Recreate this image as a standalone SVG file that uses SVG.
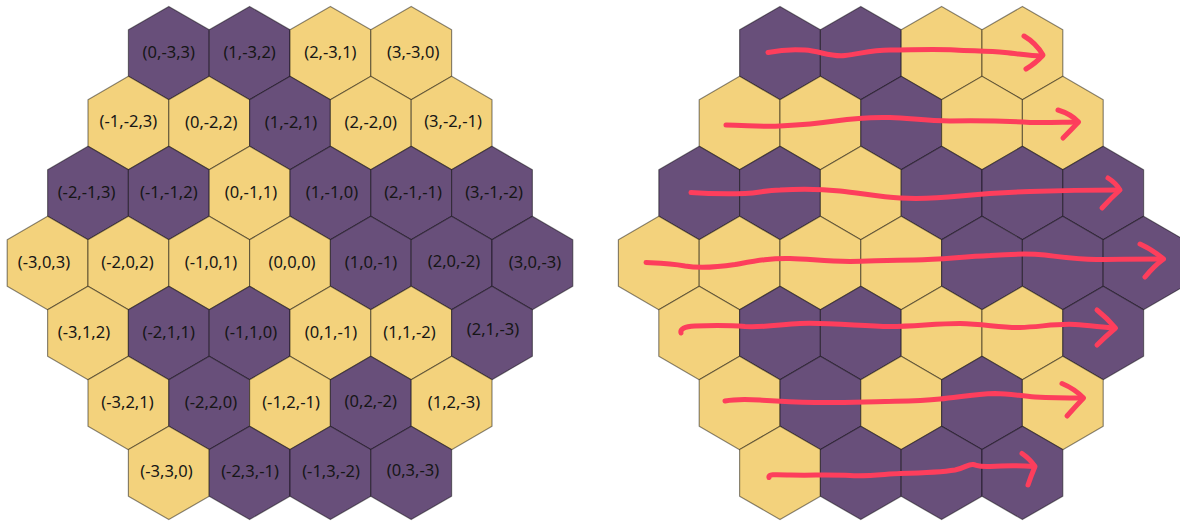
<svg xmlns="http://www.w3.org/2000/svg" xmlns:xlink="http://www.w3.org/1999/xlink" width="1180" height="521" viewBox="0 0 1180 521">
  <defs>
    <!-- pointy-top hexagon, width 80.8, circumradius 46.65 -->
    <polygon id="hex" points="0,-46.65 40.4,-23.33 40.4,23.33 0,46.65 -40.4,23.33 -40.4,-23.33"/>
    <style>
      .y { fill: #f3d27c; }
      .p { fill: #684f7a; }
      .cell use { stroke: #000; stroke-opacity: 0.45; stroke-width: 1.2; stroke-linejoin: round; }
      .lbl { font-family: "Noto Sans", Tahoma, sans-serif; font-size: 16.5px; fill: #161616; text-anchor: middle; }
      .arrow path { fill: none; stroke: #fd3e5c; stroke-width: 5; stroke-linecap: round; stroke-linejoin: round; }
    </style>
  </defs>

  <!-- Left grid: cube coordinates (q,r,s) -->
  <g id="left-grid">
    <!-- r = -3 -->
    <g id="L_0_-3_3" class="cell"><use href="#hex" class="p" x="168.8" y="53.1"/><text class="lbl" x="168.8" y="57.5">(0,-3,3)</text></g>
    <g id="L_1_-3_2" class="cell"><use href="#hex" class="p" x="249.6" y="53.1"/><text class="lbl" x="249.6" y="57.5">(1,-3,2)</text></g>
    <g id="L_2_-3_1" class="cell"><use href="#hex" class="y" x="330.4" y="53.1"/><text class="lbl" x="330.4" y="57.5">(2,-3,1)</text></g>
    <g id="L_3_-3_0" class="cell"><use href="#hex" class="y" x="411.2" y="53.1"/><text class="lbl" x="413.2" y="57.5">(3,-3,0)</text></g>
    <!-- r = -2 -->
    <g id="L_-1_-2_3" class="cell"><use href="#hex" class="y" x="128.4" y="123"/><text class="lbl" x="128.4" y="126.5">(-1,-2,3)</text></g>
    <g id="L_0_-2_2" class="cell"><use href="#hex" class="y" x="209.2" y="123"/><text class="lbl" x="211.2" y="127.5">(0,-2,2)</text></g>
    <g id="L_1_-2_1" class="cell"><use href="#hex" class="p" x="290" y="123"/><text class="lbl" x="291" y="127.5">(1,-2,1)</text></g>
    <g id="L_2_-2_0" class="cell"><use href="#hex" class="y" x="370.8" y="123"/><text class="lbl" x="370.8" y="127.5">(2,-2,0)</text></g>
    <g id="L_3_-2_-1" class="cell"><use href="#hex" class="y" x="451.6" y="123"/><text class="lbl" x="453" y="126.5">(3,-2,-1)</text></g>
    <!-- r = -1 -->
    <g id="L_-2_-1_3" class="cell"><use href="#hex" class="p" x="88" y="193"/><text class="lbl" x="86.5" y="197.5">(-2,-1,3)</text></g>
    <g id="L_-1_-1_2" class="cell"><use href="#hex" class="p" x="168.8" y="193"/><text class="lbl" x="168.8" y="197.5">(-1,-1,2)</text></g>
    <g id="L_0_-1_1" class="cell"><use href="#hex" class="y" x="249.6" y="193"/><text class="lbl" x="251" y="197.5">(0,-1,1)</text></g>
    <g id="L_1_-1_0" class="cell"><use href="#hex" class="p" x="330.4" y="193"/><text class="lbl" x="332" y="197.5">(1,-1,0)</text></g>
    <g id="L_2_-1_-1" class="cell"><use href="#hex" class="p" x="411.2" y="193"/><text class="lbl" x="413" y="197.5">(2,-1,-1)</text></g>
    <g id="L_3_-1_-2" class="cell"><use href="#hex" class="p" x="492" y="193"/><text class="lbl" x="494" y="197.5">(3,-1,-2)</text></g>
    <!-- r = 0 -->
    <g id="L_-3_0_3" class="cell"><use href="#hex" class="y" x="47.6" y="263"/><text class="lbl" x="44" y="267.5">(-3,0,3)</text></g>
    <g id="L_-2_0_2" class="cell"><use href="#hex" class="y" x="128.4" y="263"/><text class="lbl" x="127.5" y="267.5">(-2,0,2)</text></g>
    <g id="L_-1_0_1" class="cell"><use href="#hex" class="y" x="209.2" y="263"/><text class="lbl" x="211" y="267.5">(-1,0,1)</text></g>
    <g id="L_0_0_0" class="cell"><use href="#hex" class="y" x="290" y="263"/><text class="lbl" x="292" y="267.5">(0,0,0)</text></g>
    <g id="L_1_0_-1" class="cell"><use href="#hex" class="p" x="370.8" y="263"/><text class="lbl" x="371" y="267.5">(1,0,-1)</text></g>
    <g id="L_2_0_-2" class="cell"><use href="#hex" class="p" x="451.6" y="263"/><text class="lbl" x="454" y="266.5">(2,0,-2)</text></g>
    <g id="L_3_0_-3" class="cell"><use href="#hex" class="p" x="532.4" y="263"/><text class="lbl" x="535" y="267.5">(3,0,-3)</text></g>
    <!-- r = 1 -->
    <g id="L_-3_1_2" class="cell"><use href="#hex" class="y" x="88" y="333"/><text class="lbl" x="84" y="337.5">(-3,1,2)</text></g>
    <g id="L_-2_1_1" class="cell"><use href="#hex" class="p" x="168.8" y="333"/><text class="lbl" x="168.8" y="337.5">(-2,1,1)</text></g>
    <g id="L_-1_1_0" class="cell"><use href="#hex" class="p" x="249.6" y="333"/><text class="lbl" x="251" y="337.5">(-1,1,0)</text></g>
    <g id="L_0_1_-1" class="cell"><use href="#hex" class="y" x="330.4" y="333"/><text class="lbl" x="331" y="337.5">(0,1,-1)</text></g>
    <g id="L_1_1_-2" class="cell"><use href="#hex" class="y" x="411.2" y="333"/><text class="lbl" x="409.5" y="337.5">(1,1,-2)</text></g>
    <g id="L_2_1_-3" class="cell"><use href="#hex" class="p" x="492" y="333"/><text class="lbl" x="493" y="334.5">(2,1,-3)</text></g>
    <!-- r = 2 -->
    <g id="L_-3_2_1" class="cell"><use href="#hex" class="y" x="128.4" y="403"/><text class="lbl" x="127.5" y="407.5">(-3,2,1)</text></g>
    <g id="L_-2_2_0" class="cell"><use href="#hex" class="p" x="209.2" y="403"/><text class="lbl" x="211" y="407.5">(-2,2,0)</text></g>
    <g id="L_-1_2_-1" class="cell"><use href="#hex" class="y" x="290" y="403"/><text class="lbl" x="291" y="407.5">(-1,2,-1)</text></g>
    <g id="L_0_2_-2" class="cell"><use href="#hex" class="p" x="370.8" y="403"/><text class="lbl" x="370.8" y="406.5">(0,2,-2)</text></g>
    <g id="L_1_2_-3" class="cell"><use href="#hex" class="y" x="451.6" y="403"/><text class="lbl" x="454" y="407.5">(1,2,-3)</text></g>
    <!-- r = 3 -->
    <g id="L_-3_3_0" class="cell"><use href="#hex" class="y" x="168.8" y="472.9"/><text class="lbl" x="166.5" y="476.5">(-3,3,0)</text></g>
    <g id="L_-2_3_-1" class="cell"><use href="#hex" class="p" x="249.6" y="472.9"/><text class="lbl" x="250" y="476.5">(-2,3,-1)</text></g>
    <g id="L_-1_3_-2" class="cell"><use href="#hex" class="p" x="330.4" y="472.9"/><text class="lbl" x="331" y="476.5">(-1,3,-2)</text></g>
    <g id="L_0_3_-3" class="cell"><use href="#hex" class="p" x="411.2" y="472.9"/><text class="lbl" x="413" y="475.5">(0,3,-3)</text></g>
  </g>

  <!-- Right grid: same colouring, traversal order shown by arrows -->
  <g id="right-grid">
    <g id="R_0_-3_3" class="cell"><use href="#hex" class="p" x="780" y="53.1"/></g>
    <g id="R_1_-3_2" class="cell"><use href="#hex" class="p" x="860.8" y="53.1"/></g>
    <g id="R_2_-3_1" class="cell"><use href="#hex" class="y" x="941.6" y="53.1"/></g>
    <g id="R_3_-3_0" class="cell"><use href="#hex" class="y" x="1022.4" y="53.1"/></g>

    <g id="R_-1_-2_3" class="cell"><use href="#hex" class="y" x="739.6" y="123"/></g>
    <g id="R_0_-2_2" class="cell"><use href="#hex" class="y" x="820.4" y="123"/></g>
    <g id="R_1_-2_1" class="cell"><use href="#hex" class="p" x="901.2" y="123"/></g>
    <g id="R_2_-2_0" class="cell"><use href="#hex" class="y" x="982" y="123"/></g>
    <g id="R_3_-2_-1" class="cell"><use href="#hex" class="y" x="1062.8" y="123"/></g>

    <g id="R_-2_-1_3" class="cell"><use href="#hex" class="p" x="699.2" y="193"/></g>
    <g id="R_-1_-1_2" class="cell"><use href="#hex" class="p" x="780" y="193"/></g>
    <g id="R_0_-1_1" class="cell"><use href="#hex" class="y" x="860.8" y="193"/></g>
    <g id="R_1_-1_0" class="cell"><use href="#hex" class="p" x="941.6" y="193"/></g>
    <g id="R_2_-1_-1" class="cell"><use href="#hex" class="p" x="1022.4" y="193"/></g>
    <g id="R_3_-1_-2" class="cell"><use href="#hex" class="p" x="1103.2" y="193"/></g>

    <g id="R_-3_0_3" class="cell"><use href="#hex" class="y" x="658.8" y="263"/></g>
    <g id="R_-2_0_2" class="cell"><use href="#hex" class="y" x="739.6" y="263"/></g>
    <g id="R_-1_0_1" class="cell"><use href="#hex" class="y" x="820.4" y="263"/></g>
    <g id="R_0_0_0" class="cell"><use href="#hex" class="y" x="901.2" y="263"/></g>
    <g id="R_1_0_-1" class="cell"><use href="#hex" class="p" x="982" y="263"/></g>
    <g id="R_2_0_-2" class="cell"><use href="#hex" class="p" x="1062.8" y="263"/></g>
    <g id="R_3_0_-3" class="cell"><use href="#hex" class="p" x="1143.6" y="263"/></g>

    <g id="R_-3_1_2" class="cell"><use href="#hex" class="y" x="699.2" y="333"/></g>
    <g id="R_-2_1_1" class="cell"><use href="#hex" class="p" x="780" y="333"/></g>
    <g id="R_-1_1_0" class="cell"><use href="#hex" class="p" x="860.8" y="333"/></g>
    <g id="R_0_1_-1" class="cell"><use href="#hex" class="y" x="941.6" y="333"/></g>
    <g id="R_1_1_-2" class="cell"><use href="#hex" class="y" x="1022.4" y="333"/></g>
    <g id="R_2_1_-3" class="cell"><use href="#hex" class="p" x="1103.2" y="333"/></g>

    <g id="R_-3_2_1" class="cell"><use href="#hex" class="y" x="739.6" y="403"/></g>
    <g id="R_-2_2_0" class="cell"><use href="#hex" class="p" x="820.4" y="403"/></g>
    <g id="R_-1_2_-1" class="cell"><use href="#hex" class="y" x="901.2" y="403"/></g>
    <g id="R_0_2_-2" class="cell"><use href="#hex" class="p" x="982" y="403"/></g>
    <g id="R_1_2_-3" class="cell"><use href="#hex" class="y" x="1062.8" y="403"/></g>

    <g id="R_-3_3_0" class="cell"><use href="#hex" class="y" x="780" y="472.9"/></g>
    <g id="R_-2_3_-1" class="cell"><use href="#hex" class="p" x="860.8" y="472.9"/></g>
    <g id="R_-1_3_-2" class="cell"><use href="#hex" class="p" x="941.6" y="472.9"/></g>
    <g id="R_0_3_-3" class="cell"><use href="#hex" class="p" x="1022.4" y="472.9"/></g>
  </g>

  <!-- Hand-drawn row-by-row traversal arrows -->
  <g id="connectors">
    <g id="arrow-row-1" class="arrow">
      <path d="M768,52.5 C780,50 792,49 805,50 C820,51 830,57 845,55.5 C860,54 870,50 890,50 C910,50 935,49 955,50 C975,51 990,51 1005,52.5 C1020,54 1030,56 1042,56"/>
      <path d="M1024,36 Q1036,43 1043,55 Q1036,63 1026,69"/>
    </g>
    <g id="arrow-row-2" class="arrow">
      <path d="M726,125 C745,125 760,127 780,126 C800,125 815,124 835,121 C855,118 870,117 890,117.5 C910,118 925,121 950,121 C980,120.5 1005,121 1030,122.5 C1050,123 1065,122 1078,122"/>
      <path d="M1058,110 Q1071,114 1078.5,122 Q1071,130 1063,138"/>
    </g>
    <g id="arrow-row-3" class="arrow">
      <path d="M691,192.5 C705,193.5 720,194 745,193.5 C760,193 765,190 780,190 C800,189 820,189 840,191 C860,193 880,197 900,198 C920,199 940,198 960,196 C990,193 1010,192 1030,191.5 C1060,190.5 1090,190 1119,190"/>
      <path d="M1108,178 Q1116,183 1120,190 Q1111,198 1102,208"/>
    </g>
    <g id="arrow-row-4" class="arrow">
      <path d="M646,262.5 C660,263 670,263 685,266 C700,268.5 715,267.5 735,264.5 C755,261 770,258 790,258.5 C810,259 825,261.5 850,261.5 C875,261 890,260 915,260 C940,259.5 960,257 990,255.5 C1010,254 1025,253 1045,255 C1065,257.5 1080,260 1100,259.5 C1120,259 1140,259 1163,259"/>
      <path d="M1140,244 Q1153,250 1163.5,259 Q1154,266 1145,277"/>
    </g>
    <g id="arrow-row-5" class="arrow">
      <path d="M681,333 C680,329 684,326.5 695,326 C710,325.5 725,325 745,326.5 C765,327.5 780,324.5 800,323.5 C830,322.5 860,326 890,326.5 C915,326.5 935,323.5 960,323.5 C985,324 1000,328 1020,327.5 C1040,327 1055,323.5 1075,324.5 C1090,325.5 1105,327.5 1115,328"/>
      <path d="M1097,310 Q1107,318 1115.5,328 Q1105,337 1097,345"/>
    </g>
    <g id="arrow-row-6" class="arrow">
      <path d="M725,401 C735,399 745,399 760,400 C775,401 790,402 815,402.5 C840,403 860,402 885,401.5 C905,401 920,401 940,399 C960,397 975,394 995,393.5 C1010,393.5 1020,396 1035,397 C1055,398 1070,398 1083,398"/>
      <path d="M1062,383.5 Q1075,389 1083.5,398 Q1075,407 1067,416"/>
    </g>
    <g id="arrow-row-7" class="arrow">
      <path d="M769,477.5 C768,474 775,474.5 790,475 C810,475.5 830,474.5 850,475.5 C870,476.5 885,474 900,473.5 C920,473 940,472.5 955,470 C965,468 968,464 973,464.5 C978,465.5 978,467 990,466.5 C1005,465.5 1020,465.5 1034,466.5"/>
      <path d="M1022,453.5 Q1030,459 1035,466.5 Q1031,476 1028,485"/>
    </g>
  </g>
</svg>
